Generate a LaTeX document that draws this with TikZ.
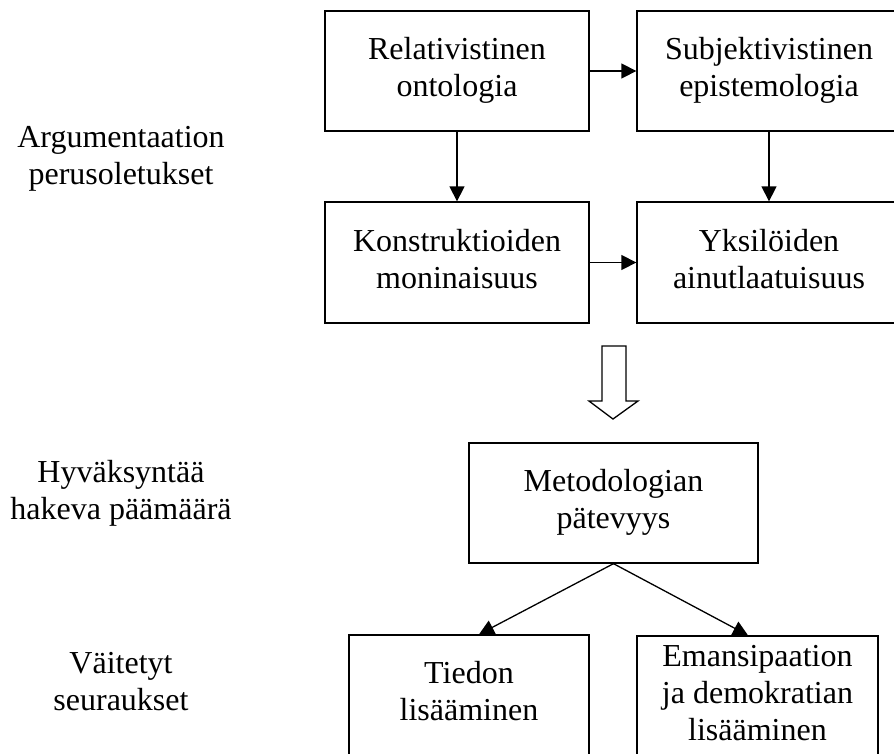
\documentclass[tikz,border=0pt]{standalone}
\usepackage{fontspec}
\setmainfont{Liberation Serif}
\usetikzlibrary{arrows.meta,calc}
\begin{document}
\begin{tikzpicture}[x=1pt,y=-1pt,
  box/.style={draw,line width=1.3pt,minimum width=264pt,minimum height=120pt,inner sep=0pt,align=center,font=\fontsize{32}{37}\selectfont},
  lbl/.style={inner sep=0pt,align=center,font=\fontsize{32}{37}\selectfont},
  conn/.style={line width=1.3pt,-{Triangle[length=15pt,width=15pt]}},
  blockarrow/.style={draw,line width=1.3pt,line join=miter,fill=white}]
\useasboundingbox (0,0) rectangle (894,753);
\clip (0,0) rectangle (894,753);
% left labels
\node[lbl] (arg) at (121,159) {\strut Argumentaation\\\strut perusoletukset};
\node[lbl] (hyv) at (121,494) {\strut Hyväksyntää\\\strut hakeva päämäärä};
\node[lbl] (vai) at (121,685) {\strut Väitetyt\\\strut seuraukset};
% boxes
\node[box] (rel) at (457,71) {\strut Relativistinen\\\strut ontologia};
\node[box] (sub) at (769,71) {\strut Subjektivistinen\\\strut epistemologia};
\node[box,minimum height=121pt] (kon) at (457,262.5) {\strut Konstruktioiden\\\strut moninaisuus};
\node[box,minimum height=121pt] (yks) at (769,262.5) {\strut Yksilöiden\\\strut ainutlaatuisuus};
\node[box,minimum width=289pt] (met) at (613.5,503) {\strut Metodologian\\\strut pätevyys};
\node[box,minimum width=240pt] (tie) at (469,695) {\strut Tiedon\\\strut lisääminen};
\node[box,minimum width=241pt] (ema) at (757.5,696) {\strut Emansipaation\\\strut ja demokratian\\\strut lisääminen};
% connectors
\draw[conn] (rel) -- (sub);
\draw[conn] (rel) -- (kon);
\draw[conn] (sub) -- (yks);
\draw[conn] (kon) -- (yks);
\draw[conn] (met.south) -- ($(tie.north)+(10,0)$);
\draw[conn] (met.south) -- ($(ema.north)+(-9.5,0)$);
% block arrow
\draw[blockarrow] (602,346) -- (626,346) -- (626,401) -- (638,401) -- (613,419) -- (589,401) -- (602,401) -- cycle;
\end{tikzpicture}
\end{document}
